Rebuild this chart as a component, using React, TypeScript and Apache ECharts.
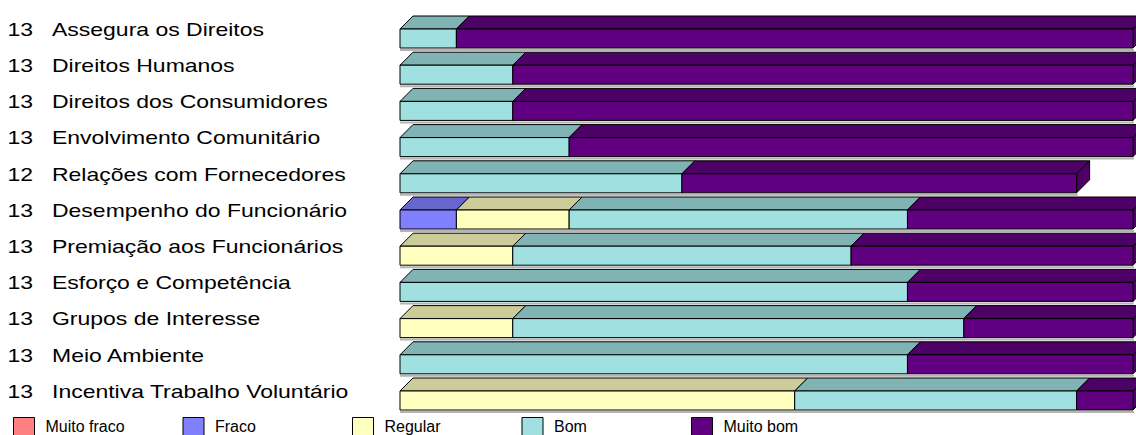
import React, { useEffect, useRef } from 'react';
import * as echarts from 'echarts';

const categories = [
  'Assegura os Direitos',
  'Direitos Humanos',
  'Direitos dos Consumidores',
  'Envolvimento Comunitário',
  'Relações com Fornecedores',
  'Desempenho do Funcionário',
  'Premiação aos Funcionários',
  'Esforço e Competência',
  'Grupos de Interesse',
  'Meio Ambiente',
  'Incentiva Trabalho Voluntário',
];
const counts = [13, 13, 13, 13, 12, 13, 13, 13, 13, 13, 13];
const muitoFraco = [0, 0, 0, 0, 0, 0, 0, 0, 0, 0, 0];
const fraco = [0, 0, 0, 0, 0, 1, 0, 0, 0, 0, 0];
const regular = [0, 0, 0, 0, 0, 2, 2, 0, 2, 0, 7];
const bom = [1, 2, 2, 3, 5, 6, 6, 9, 8, 9, 5];
const muitoBom = [12, 11, 11, 10, 7, 4, 5, 4, 3, 4, 1];
const seriesNames = ['Muito fraco', 'Fraco', 'Regular', 'Bom', 'Muito bom'];
const seriesValues = [muitoFraco, fraco, regular, bom, muitoBom];

const frontColors = ['#FF8080', '#8080FF', '#FFFFC0', '#A0E0E0', '#600080'];
const topColors = ['#CC6666', '#6666CC', '#CCCC99', '#80B3B3', '#4D0066'];

const FONT = '"Liberation Sans", Arial, sans-serif';
const DEPTH = 13;
const FRONT_H = 19;

export default function App() {
  const ref = useRef<HTMLDivElement>(null);

  useEffect(() => {
    if (!ref.current) return;
    const chart = echarts.init(ref.current, undefined, { renderer: 'svg' });

    const cum = categories.map(() => 0);
    const barSeries = seriesValues.map((vals, si) => {
      const data = vals.map((v, i) => {
        const start = cum[i];
        cum[i] += v;
        return [start, start + v, i];
      });
      return {
        type: 'custom',
        name: seriesNames[si],
        coordinateSystem: 'cartesian2d',
        clip: false,
        itemStyle: { color: frontColors[si], borderColor: '#000', borderWidth: 1 },
        encode: { x: [0, 1], y: 2 },
        data,
        renderItem: (params: any, api: any) => {
          const start = api.value(0);
          const end = api.value(1);
          const cat = api.value(2);
          if (end <= start) return null;
          const p0 = api.coord([start, cat]);
          const p1 = api.coord([end, cat]);
          const x0 = p0[0];
          const x1 = p1[0];
          const c = p0[1];
          return {
            type: 'group',
            children: [
              {
                type: 'rect',
                shape: { x: x0, y: c + FRONT_H + 1, width: x1 - x0 + 1, height: 2 },
                style: { fill: '#b4b4b4' },
              },
              {
                type: 'polygon',
                shape: {
                  points: [
                    [x1, c],
                    [x1 + DEPTH, c - DEPTH],
                    [x1 + DEPTH, c - DEPTH + FRONT_H],
                    [x1, c + FRONT_H],
                  ],
                },
                style: { fill: topColors[si], stroke: '#000', lineWidth: 1 },
              },
              {
                type: 'polygon',
                shape: {
                  points: [
                    [x0, c],
                    [x1, c],
                    [x1 + DEPTH, c - DEPTH],
                    [x0 + DEPTH, c - DEPTH],
                  ],
                },
                style: { fill: topColors[si], stroke: '#000', lineWidth: 1 },
              },
              {
                type: 'rect',
                shape: { x: x0, y: c, width: x1 - x0, height: FRONT_H },
                style: { fill: frontColors[si], stroke: '#000', lineWidth: 1 },
              },
            ],
          };
        },
      };
    });

    const labelSeries = {
      type: 'custom',
      name: 'labels',
      coordinateSystem: 'cartesian2d',
      clip: false,
      silent: true,
      data: categories.map((_, i) => [0, i, counts[i]]),
      encode: { x: 0, y: 1 },
      renderItem: (params: any, api: any) => {
        const cat = api.value(1);
        const cnt = api.value(2);
        const p = api.coord([0, cat]);
        const c = p[1];
        const base = {
          fontSize: 19,
          fontFamily: FONT,
          fill: '#000',
          verticalAlign: 'middle',
          align: 'left',
        };
        return {
          type: 'group',
          children: [
            { type: 'text', x: 7.5, y: c, scaleX: 1.21, style: { ...base, text: String(cnt) } },
            {
              type: 'text',
              x: 52,
              y: c,
              scaleX: 1.21,
              style: { ...base, text: categories[params.dataIndex] },
            },
          ],
        };
      },
    };

    const option: any = {
      animation: false,
      backgroundColor: '#ffffff',
      grid: { left: 400, right: 3, top: 10.9, height: 398.2 },
      xAxis: {
        type: 'value',
        min: 0,
        max: 13,
        show: false,
      },
      yAxis: {
        type: 'category',
        data: categories,
        inverse: true,
        show: false,
      },
      legend: seriesNames.map((n, i) => ({
        data: [n],
        left: 13 + i * 169.5,
        top: 417,
        padding: 0,
        icon: 'rect',
        itemWidth: 21,
        itemHeight: 18,
        selectedMode: false,
        itemStyle: { borderColor: '#000', borderWidth: 1 },
        textStyle: {
          fontSize: 16,
          fontFamily: FONT,
          color: '#000',
          padding: [0, 0, 4, 6],
        },
      })),
      series: [...barSeries, labelSeries],
    };

    chart.setOption(option);
    return () => chart.dispose();
  }, []);

  return (
    <div
      ref={ref}
      style={{ position: 'absolute', left: 0, top: 0, width: 1136, height: 435 }}
    />
  );
}
